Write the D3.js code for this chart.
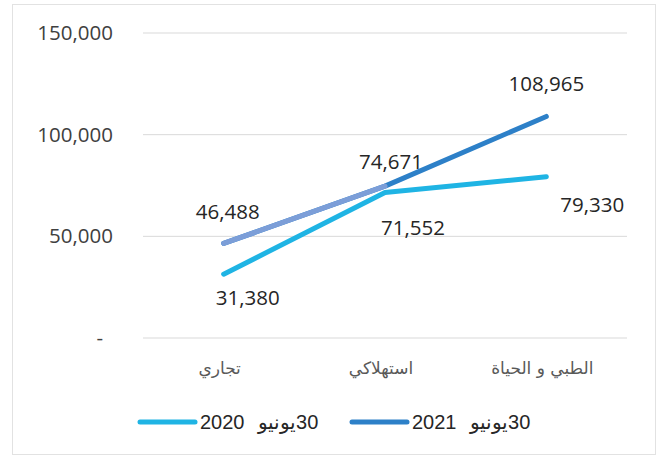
<!DOCTYPE html>
<html lang="ar">
<head>
    <meta charset="UTF-8">
    <title>Line Chart</title>
    <script src="https://d3js.org/d3.v7.min.js"></script>
    <style>
        body { margin: 0; background: #fff; }
        svg { display: block; }
    </style>
    <script>
        const CATEGORIES = ["تجاري", "استهلاكي", "الطبي و الحياة"];
        const SERIES_NAMES = ["30يونيو 2020", "30يونيو 2021"];
        const VALUES_2020 = [31380, 71552, 79330];
        const VALUES_2021 = [46488, 74671, 108965];
        const Y_TICKS = [0, 50000, 100000, 150000];

        document.addEventListener("DOMContentLoaded", function() {
            drawChart();
        });

        function drawChart() {
            const width = 657, height = 457;
            const svg = d3.select("svg").attr("width", width).attr("height", height);

            svg.append("rect")
                .attr("x", 12.5).attr("y", 4.5)
                .attr("width", 643).attr("height", 450)
                .attr("fill", "none").attr("stroke", "#e2e2e2");

            const x = d3.scaleBand().domain(CATEGORIES).range([143, 627]);
            const y = d3.scaleLinear().domain([0, 150000]).range([338, 33]);
            const cx = d => x(d) + x.bandwidth() / 2;

            // gridlines
            svg.append("g").selectAll("line")
                .data(Y_TICKS)
                .enter().append("line")
                .attr("x1", 143).attr("x2", 627)
                .attr("y1", d => y(d)).attr("y2", d => y(d))
                .attr("stroke", "#d9d9d9").attr("stroke-width", 1);

            // y labels
            svg.append("g").selectAll("text")
                .data(Y_TICKS)
                .enter().append("text")
                .attr("x", d => d === 0 ? 103 : 113)
                .attr("y", d => y(d) + 7)
                .attr("text-anchor", "end")
                .style("font-family", "'Open Sans', sans-serif")
                .style("font-size", "20.5px")
                .attr("fill", "#404040")
                .text(d => d === 0 ? "-" : d3.format(",")(d));

            // category labels
            svg.append("g").selectAll("text")
                .data(CATEGORIES)
                .enter().append("text")
                .attr("x", d => cx(d) - 4)
                .attr("y", 374)
                .attr("text-anchor", "middle")
                .style("font-family", "'DejaVu Sans', serif")
                .style("font-size", "17px")
                .attr("fill", "#595959")
                .text(d => d);

            const series = [
                {name: SERIES_NAMES[0], values: VALUES_2020, color: "#1fb4e4",
                 labelDx: [24, 28, 46], labelDy: [31, 42, 35]},
                {name: SERIES_NAMES[1], values: VALUES_2021, color: "#2d80c8",
                 labelDx: [4, 6, 0], labelDy: [-24, -17, -25]}
            ];

            const line = d3.line()
                .x((d, i) => cx(CATEGORIES[i]))
                .y(d => y(d));

            // 2020 first, then 2021 on top
            series.forEach(s => {
                svg.append("path")
                    .attr("d", line(s.values))
                    .attr("fill", "none")
                    .attr("stroke", s.color)
                    .attr("stroke-width", 5)
                    .attr("stroke-linecap", "round")
                    .attr("stroke-linejoin", "round");
            });

            // lighter tint on the first 2021 segment, as in the source
            svg.append("path")
                .attr("d", line(VALUES_2021.slice(0, 2)))
                .attr("fill", "none")
                .attr("stroke", "#7c9ed8")
                .attr("stroke-width", 5)
                .attr("stroke-linecap", "round");

            // data labels
            series.forEach(s => {
                svg.append("g").selectAll("text")
                    .data(s.values)
                    .enter().append("text")
                    .attr("x", (d, i) => cx(CATEGORIES[i]) + s.labelDx[i])
                    .attr("y", (d, i) => y(d) + s.labelDy[i])
                    .attr("text-anchor", "middle")
                    .style("font-family", "'Open Sans', sans-serif")
                    .style("font-size", "20.5px")
                    .attr("fill", "#262626")
                    .text(d => d3.format(",")(d));
            });

            // legend
            const legendX = [140, 352];
            const lg = svg.append("g").selectAll("g")
                .data(series)
                .enter().append("g")
                .attr("transform", (d, i) => "translate(" + legendX[i] + ",422)");

            lg.append("line")
                .attr("x1", 0).attr("x2", 55)
                .attr("stroke", d => d.color)
                .attr("stroke-width", 5)
                .attr("stroke-linecap", "round");

            lg.append("text")
                .attr("x", 60)
                .attr("y", 7)
                .attr("direction", "rtl")
                .attr("text-anchor", "end")
                .style("font-family", "'Liberation Sans', Arial, sans-serif")
                .style("font-size", "20px")
                .style("word-spacing", "8px")
                .attr("fill", "#262626")
                .text(d => d.name);
        }
    </script>
</head>
<body>
    <svg id="chart"></svg>
</body>
</html>
